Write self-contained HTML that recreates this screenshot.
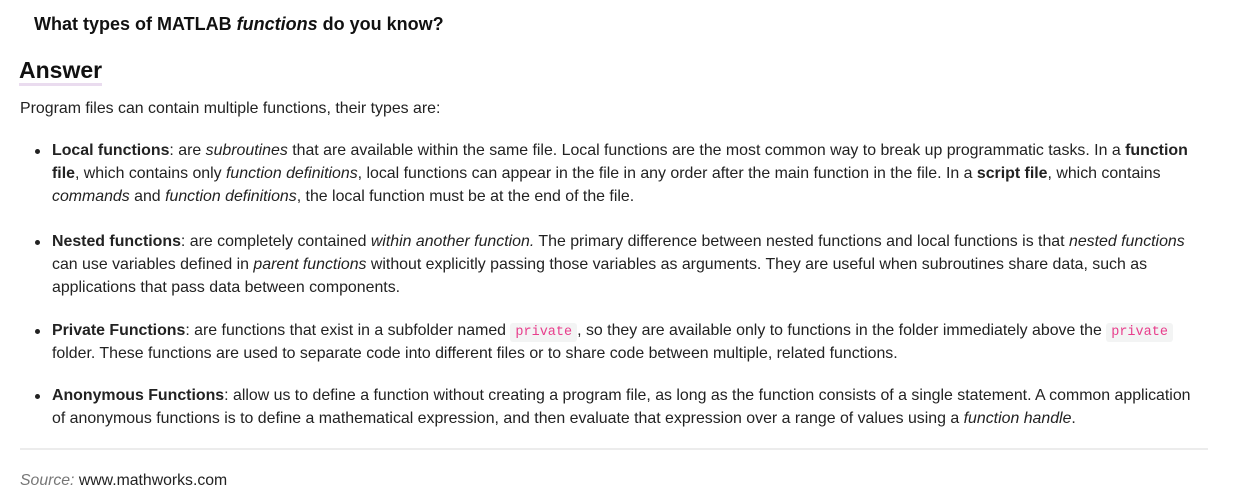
<!DOCTYPE html>
<html><head><meta charset="utf-8"><style>
body{margin:0;width:1234px;height:500px;background:#fff;font-family:"Liberation Sans",Arial,sans-serif;color:#222;position:relative;overflow:hidden}
.l{position:absolute;left:52px;font-size:15.9px;white-space:nowrap;line-height:20px}
.d{position:absolute;left:35px;width:5px;height:5px;border-radius:50%;background:#222}
code{font-family:"Liberation Mono",monospace;font-size:13.5px;color:#e83e8c;background:#f3f4f4;padding:2px 5px;border-radius:3px}
</style></head><body>
<div style="position:absolute;left:34px;top:14px;font-size:18px;font-weight:bold;color:#111">What types of MATLAB <i>functions</i> do you know?</div>
<div style="position:absolute;left:19px;top:57px;font-size:23px;font-weight:bold;color:#111;border-bottom:3px solid #eadcef;line-height:26px">Answer</div>
<div class="l" style="left:20px;top:99px">Program files can contain multiple functions, their types are:</div>

<div class="d" style="top:149px"></div>
<div class="l" style="top:141px"><b>Local functions</b>: are <i>subroutines</i> that are available within the same file. Local functions are the most common way to break up programmatic tasks. In a <b>function</b></div>
<div class="l" style="top:164px"><b>file</b>, which contains only <i>function definitions</i>, local functions can appear in the file in any order after the main function in the file. In a <b>script file</b>, which contains</div>
<div class="l" style="top:187px"><i>commands</i> and <i>function definitions</i>, the local function must be at the end of the file.</div>

<div class="d" style="top:240px"></div>
<div class="l" style="top:232px"><b>Nested functions</b>: are completely contained <i>within another function.</i> The primary difference between nested functions and local functions is that <i>nested functions</i></div>
<div class="l" style="top:255px">can use variables defined in <i>parent functions</i> without explicitly passing those variables as arguments. They are useful when subroutines share data, such as</div>
<div class="l" style="top:278px">applications that pass data between components.</div>

<div class="d" style="top:329px"></div>
<div class="l" style="top:321px"><b>Private Functions</b>: are functions that exist in a subfolder named <code>private</code>, so they are available only to functions in the folder immediately above the <code>private</code></div>
<div class="l" style="top:344px">folder. These functions are used to separate code into different files or to share code between multiple, related functions.</div>

<div class="d" style="top:394px"></div>
<div class="l" style="top:386px"><b>Anonymous Functions</b>: allow us to define a function without creating a program file, as long as the function consists of a single statement. A common application</div>
<div class="l" style="top:409px">of anonymous functions is to define a mathematical expression, and then evaluate that expression over a range of values using a <i>function handle</i>.</div>

<div style="position:absolute;left:20px;top:448px;width:1188px;height:2px;background:#ececec"></div>
<div class="l" style="left:20px;top:471px;font-size:15.8px"><i style="color:#777">Source:</i> www.mathworks.com</div>
</body></html>
